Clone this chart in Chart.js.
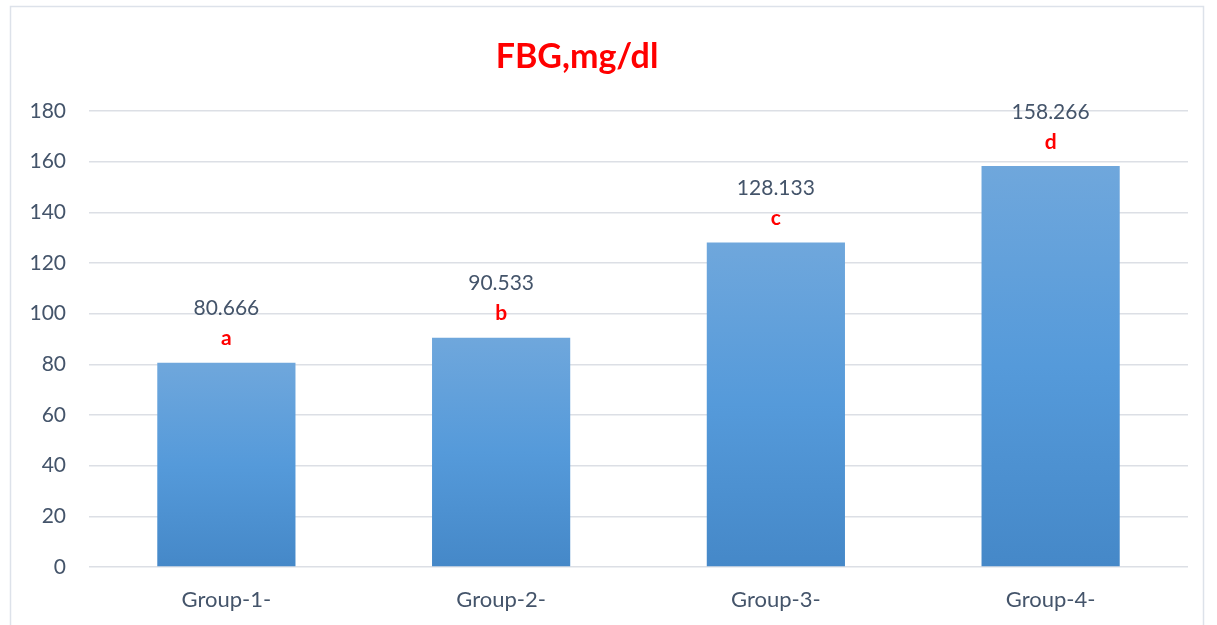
<!DOCTYPE html>
<html>
<head>
<meta charset="utf-8">
<title>FBG,mg/dl</title>
<script src="https://cdn.jsdelivr.net/npm/chart.js@4/dist/chart.umd.min.js"></script>
<style>
  html, body { margin: 0; padding: 0; background: #ffffff; }
  #wrap { width: 1217px; height: 625px; position: relative; }
</style>
</head>
<body>
<div id="wrap"><canvas id="chart" width="1217" height="625"></canvas></div>
<script>
// Fasting blood glucose by group
const groups = ['Group-1-', 'Group-2-', 'Group-3-', 'Group-4-'];
const fbgValues = [80.666, 90.533, 128.133, 158.266];
const valueLabels = ['80.666', '90.533', '128.133', '158.266'];
const significanceLetters = ['a', 'b', 'c', 'd'];
const yTicks = [0, 20, 40, 60, 80, 100, 120, 140, 160, 180];

const FONT = 'Lato, "Open Sans", sans-serif';
const TEXT_COLOR = '#44546a';

// Each bar gets its own vertical gradient, lighter at the top
function barGradient(ctx) {
  const chart = ctx.chart;
  const y = chart.scales && chart.scales.y;
  if (!y || ctx.dataIndex === undefined) return '#5b9bd5';
  const top = y.getPixelForValue(ctx.raw);
  const bottom = y.getPixelForValue(0);
  if (!isFinite(top) || !isFinite(bottom) || top === bottom) return '#5b9bd5';
  const g = chart.ctx.createLinearGradient(0, top, 0, bottom);
  g.addColorStop(0, '#6fa7dc');
  g.addColorStop(0.5, '#559ada');
  g.addColorStop(1, '#4588c8');
  return g;
}

// Outer frame and the title
const framePlugin = {
  id: 'frame',
  beforeDraw(chart) {
    const c = chart.ctx;
    c.save();
    c.strokeStyle = '#dde2ea';
    c.lineWidth = 1.5;
    c.strokeRect(10.5, 6.5, 1193, 640);
    c.restore();
  },
  afterDraw(chart) {
    const c = chart.ctx;
    c.save();
    c.fillStyle = '#ff0000';
    c.font = 'bold 34px ' + FONT;
    c.textAlign = 'center';
    c.textBaseline = 'middle';
    c.fillText('FBG,mg/dl', 577, 57);
    c.restore();
  }
};

// Value and letter drawn above each bar
const barLabelPlugin = {
  id: 'barLabels',
  afterDatasetsDraw(chart) {
    const c = chart.ctx;
    const meta = chart.getDatasetMeta(0);
    c.save();
    c.textAlign = 'center';
    c.textBaseline = 'middle';
    meta.data.forEach((bar, i) => {
      c.fillStyle = TEXT_COLOR;
      c.font = '21px ' + FONT;
      c.fillText(valueLabels[i], bar.x, bar.y - 54);
      c.fillStyle = '#ff0000';
      c.font = 'bold 21px ' + FONT;
      c.fillText(significanceLetters[i], bar.x, bar.y - 24);
    });
    c.restore();
  }
};

new Chart(document.getElementById('chart'), {
  type: 'bar',
  data: {
    labels: groups,
    datasets: [{
      label: 'FBG,mg/dl',
      data: fbgValues,
      backgroundColor: barGradient,
      borderWidth: 0,
      categoryPercentage: 1,
      barPercentage: 0.503
    }]
  },
  options: {
    responsive: false,
    animation: false,
    devicePixelRatio: 1,
    layout: { padding: { top: 111, right: 29, bottom: 0, left: 0 } },
    plugins: {
      legend: { display: false },
      title: { display: false },
      tooltip: { enabled: false }
    },
    scales: {
      x: {
        grid: { display: false, drawTicks: false },
        border: { display: false },
        ticks: { color: TEXT_COLOR, font: { family: FONT, size: 22 }, padding: 20 },
        afterFit(s) { s.height = 58; }
      },
      y: {
        min: 0,
        max: 180,
        afterBuildTicks(s) { s.ticks = yTicks.map(v => ({ value: v })); },
        grid: { color: '#dcdfe5', lineWidth: 1.5, drawTicks: false },
        border: { display: false },
        ticks: { color: TEXT_COLOR, font: { family: FONT, size: 21 }, padding: 23 },
        afterFit(s) { s.width = 89; }
      }
    }
  },
  plugins: [framePlugin, barLabelPlugin]
});
</script>
</body>
</html>
